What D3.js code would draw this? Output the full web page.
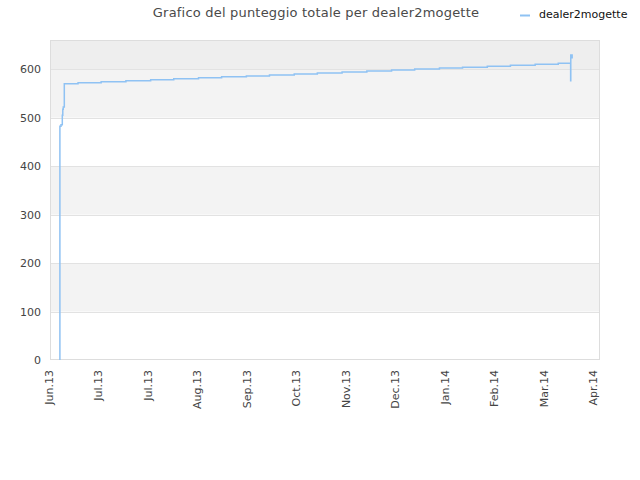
<!DOCTYPE html>
<html>
<head>
<meta charset="utf-8">
<script src="https://cdn.jsdelivr.net/npm/d3@7"></script>
<style>
  html, body { margin: 0; padding: 0; background: #fff; }
  svg { display: block; font-family: "DejaVu Sans", sans-serif; }
</style>
</head>
<body>
<svg id="chart" width="640" height="480"></svg>
<script>
// ---- data ----
var seriesName = "dealer2mogette";
var titleText = "Grafico del punteggio totale per dealer2mogette";
var pointDates = [
  "2013-06-07T00:00", "2013-06-07T00:00", "2013-06-07T16:00", "2013-06-08T11:00", "2013-06-08T18:00",
  "2013-06-09T01:00", "2013-06-09T16:00",
  "2013-06-18", "2013-07-02", "2013-07-17", "2013-08-01", "2013-08-15", "2013-08-30",
  "2013-09-13", "2013-09-28", "2013-10-12", "2013-10-27", "2013-11-10", "2013-11-25",
  "2013-12-10", "2013-12-25", "2014-01-08", "2014-01-23", "2014-02-06", "2014-02-21",
  "2014-03-07", "2014-03-22", "2014-04-05", "2014-04-12T12:00", "2014-04-12T14:00", "2014-04-13T10:00"
];
var pointScores = [
  0, 482, 485, 505, 517,
  522, 570,
  572, 574, 576, 578, 580, 582,
  584, 586, 588, 590, 592, 594,
  596, 598, 600, 602, 604, 606,
  608, 610, 612, 576, 629, 622
];
var tickDates = ["2013-06-01", "2013-07-01", "2013-07-31", "2013-08-30", "2013-09-29", "2013-10-29",
  "2013-11-28", "2013-12-28", "2014-01-27", "2014-02-26", "2014-03-28", "2014-04-27"];
var tickLabels = ["Jun.13", "Jul.13", "Jul.13", "Aug.13", "Sep.13", "Oct.13",
  "Nov.13", "Dec.13", "Jan.14", "Feb.14", "Mar.14", "Apr.14"];
var yTicks = [0, 100, 200, 300, 400, 500, 600];

// ---- layout ----
var W = 640, H = 480;
var m = { l: 50, r: 40, t: 40, b: 120 };
var parse = function (s) { return new Date(s.length > 10 ? s : s + "T00:00"); };
var data = pointDates.map(function (d, i) { return { d: parse(d), v: pointScores[i] }; });

var svg = d3.select("#chart");
var x = d3.scaleTime()
  .domain([parse("2013-06-01"), d3.timeHour.offset(parse("2013-06-01"), 333.3 * 24)])
  .range([m.l, W - m.r]);
var y = d3.scaleLinear().domain([0, 660]).range([H - m.b, m.t]);

// background bands
var bands = [[100, 200], [300, 400], [500, 600]];
svg.append("g").selectAll("rect").data(bands).join("rect")
  .attr("x", m.l).attr("width", W - m.r - m.l)
  .attr("y", function (b) { return y(b[1]); })
  .attr("height", function (b) { return y(b[0]) - y(b[1]); })
  .attr("fill", "#f3f3f3");
svg.append("rect").attr("x", m.l).attr("width", W - m.r - m.l)
  .attr("y", y(660)).attr("height", y(600) - y(660)).attr("fill", "#eeeeee");

// grid
svg.append("g").selectAll("line").data(yTicks.slice(1)).join("line")
  .attr("x1", m.l).attr("x2", W - m.r)
  .attr("y1", function (d) { return Math.round(y(d)) + 0.5; })
  .attr("y2", function (d) { return Math.round(y(d)) + 0.5; })
  .attr("stroke", "#e2e2e2");

// frame
svg.append("rect").attr("x", m.l + 0.5).attr("y", m.t + 0.5)
  .attr("width", W - m.r - m.l - 1).attr("height", H - m.b - m.t - 1)
  .attr("fill", "none").attr("stroke", "#dddddd");

// y axis
var ya = svg.append("g").attr("transform", "translate(" + (m.l - 9) + ",0)")
  .call(d3.axisLeft(y).tickValues(yTicks).tickSize(0).tickPadding(0));
ya.select(".domain").remove();
ya.selectAll("text").attr("font-size", 11).attr("fill", "#444").attr("font-family", "DejaVu Sans, sans-serif");

// x axis
var xa = svg.append("g").attr("transform", "translate(0," + (H - m.b) + ")")
  .call(d3.axisBottom(x).tickValues(tickDates.map(parse)).tickSize(0)
    .tickFormat(function (d, i) { return tickLabels[i]; }));
xa.select(".domain").remove();
xa.selectAll("text")
  .attr("font-size", 11).attr("fill", "#444").attr("font-family", "DejaVu Sans, sans-serif")
  .attr("text-anchor", "end").attr("dy", "0.3em")
  .attr("transform", "translate(-1,10) rotate(-90)")
  .attr("x", 0).attr("y", 0);

// series
var line = d3.line().x(function (d) { return x(d.d); }).y(function (d) { return y(d.v); }).curve(d3.curveStepAfter);
svg.append("path").datum(data).attr("d", line)
  .attr("fill", "none").attr("stroke", "#8fc2f3").attr("stroke-width", 1.5);

// title
svg.append("text").attr("x", 316).attr("y", 17).attr("text-anchor", "middle")
  .attr("font-size", 13).attr("letter-spacing", "0.2px").attr("fill", "#4a4a4a").text(titleText);

// legend
svg.append("line").attr("x1", 520).attr("x2", 530).attr("y1", 15.5).attr("y2", 15.5)
  .attr("stroke", "#8fc2f3").attr("stroke-width", 2);
svg.append("text").attr("x", 539).attr("y", 18).attr("font-size", 11).attr("fill", "#111").text(seriesName);
</script>
</body>
</html>
